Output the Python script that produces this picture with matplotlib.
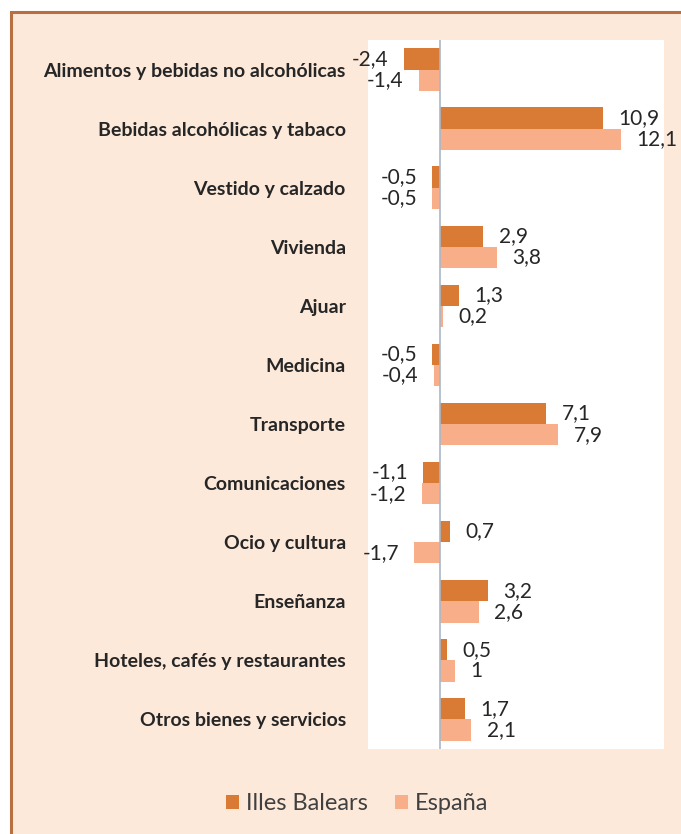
import matplotlib
matplotlib.use("Agg")
import matplotlib.pyplot as plt
import matplotlib.patches as patches
import numpy as np

# datos
categorias = [
    "Alimentos y bebidas no alcohólicas",
    "Bebidas alcohólicas y tabaco",
    "Vestido y calzado",
    "Vivienda",
    "Ajuar",
    "Medicina",
    "Transporte",
    "Comunicaciones",
    "Ocio y cultura",
    "Enseñanza",
    "Hoteles, cafés y restaurantes",
    "Otros bienes y servicios",
]
baleares = [-2.4, 10.9, -0.5, 2.9, 1.3, -0.5, 7.1, -1.1, 0.7, 3.2, 0.5, 1.7]
espana = [-1.4, 12.1, -0.5, 3.8, 0.2, -0.4, 7.9, -1.2, -1.7, 2.6, 1.0, 2.1]
series = ["Illes Balears", "España"]

c_oscuro = "#D97B35"
c_claro = "#F8AE88"
fondo = "#FDE9DA"

plt.rcParams["font.family"] = ["Lato", "DejaVu Sans"]

fig = plt.figure(figsize=(6.81, 8.34), dpi=100)
fig.patch.set_facecolor("white")

# marco del gráfico
marco = patches.Rectangle((11 / 681, -0.05), 1.1, 1 - 11.5 / 834 + 0.05,
                          transform=fig.transFigure, facecolor=fondo,
                          edgecolor="#B86F42", linewidth=2.2, zorder=-10)
fig.patches.append(marco)

ax = fig.add_axes([368 / 681, 1 - 749 / 834, 296 / 681, 709 / 834])
ax.set_facecolor("white")

y = np.arange(len(categorias))
h = 0.36
ax.barh(y - h / 2, baleares, height=h, color=c_oscuro, label=series[0], zorder=2)
ax.barh(y + h / 2, espana, height=h, color=c_claro, label=series[1], zorder=2)

ax.set_xlim(-4.8, 14.95)
ax.set_ylim(len(categorias) - 0.5, -0.5)
ax.axvline(0, color="#A9B7C6", lw=1.2, zorder=3)

def fmt(v):
    s = f"{v:.1f}".replace(".", ",")
    if s.endswith(",0"):
        s = s[:-2]
    return s

# etiquetas de valor
for vals, off in ((baleares, -h / 2), (espana, h / 2)):
    for i, v in enumerate(vals):
        if v >= 0:
            ax.annotate(fmt(v), (v, i + off), xytext=(11, 0), textcoords="offset points",
                        ha="left", va="center", fontsize=15, color="#262626")
        else:
            ax.annotate(fmt(v), (v, i + off), xytext=(-11, 0), textcoords="offset points",
                        ha="right", va="center", fontsize=15, color="#262626")

ax.set_yticks(y)
ax.set_yticklabels(categorias, fontsize=14, fontweight="bold", color="#262626")
ax.tick_params(axis="y", length=0, pad=16)
ax.set_xticks([])
for s in ax.spines.values():
    s.set_visible(False)

fig.legend(loc="center", bbox_to_anchor=(357 / 681, 1 - 804 / 834), ncol=2,
           frameon=False, fontsize=17, handlelength=0.55, handleheight=0.55,
           handletextpad=0.3, columnspacing=1.15, labelcolor="#404040")

fig.savefig("out.png", dpi=100, facecolor=fig.get_facecolor())
